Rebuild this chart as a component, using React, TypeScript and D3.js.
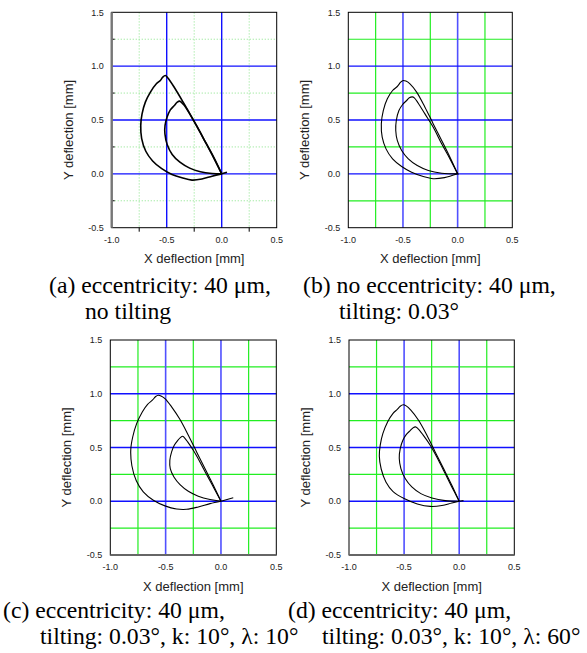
import React from "react";
import * as d3 from "d3";

type P = [number, number];

const X_TICKS = [-1.0, -0.5, 0.0, 0.5];
const Y_TICKS = [-0.5, 0.0, 0.5, 1.0, 1.5];
const MAJOR_X = [-0.5, 0.0];
const MAJOR_Y = [0.0, 0.5, 1.0];
const MINOR_X = [-0.75, -0.25, 0.25];
const MINOR_Y = [-0.25, 0.25, 0.75, 1.25];

const A_OUTER: P[] = [[0,0],[-0.073,0.155],[-0.164,0.325],[-0.255,0.495],[-0.345,0.656],[-0.436,0.811],[-0.491,0.892],[-0.512,0.913],[-0.536,0.898],[-0.558,0.867],[-0.594,0.836],[-0.648,0.759],[-0.694,0.666],[-0.724,0.557],[-0.736,0.45],[-0.728,0.33],[-0.69,0.21],[-0.628,0.12],[-0.545,0.048],[-0.452,-0.006],[-0.361,-0.037],[-0.27,-0.058],[-0.18,-0.048],[-0.088,-0.022],[0,0]];
const A_INNER: P[] = [[0,0],[-0.073,0.149],[-0.148,0.294],[-0.224,0.44],[-0.291,0.557],[-0.345,0.641],[-0.382,0.675],[-0.406,0.663],[-0.43,0.635],[-0.467,0.594],[-0.497,0.526],[-0.515,0.45],[-0.516,0.37],[-0.495,0.27],[-0.45,0.18],[-0.38,0.108],[-0.291,0.053],[-0.194,0.019],[-0.088,0.003],[0,0]];
const A_TAIL: P[] = [[0,0],[0.048,0.015]];

const B_OUTER: P[] = [[0,0],[-0.07,0.155],[-0.146,0.31],[-0.223,0.464],[-0.299,0.619],[-0.375,0.759],[-0.436,0.836],[-0.473,0.861],[-0.497,0.867],[-0.521,0.851],[-0.552,0.811],[-0.595,0.774],[-0.643,0.697],[-0.68,0.588],[-0.698,0.464],[-0.69,0.341],[-0.655,0.232],[-0.595,0.139],[-0.512,0.068],[-0.421,0.015],[-0.314,-0.025],[-0.225,-0.045],[-0.12,-0.035],[0,0]];
const B_INNER: P[] = [[0,0],[-0.07,0.139],[-0.146,0.279],[-0.223,0.433],[-0.299,0.557],[-0.36,0.656],[-0.396,0.706],[-0.415,0.715],[-0.442,0.706],[-0.466,0.681],[-0.503,0.644],[-0.537,0.588],[-0.561,0.495],[-0.566,0.402],[-0.552,0.31],[-0.512,0.217],[-0.451,0.139],[-0.369,0.077],[-0.268,0.031],[-0.146,0.006],[0,0]];
const B_TAIL: P[] = [[0,0],[0.01,-0.004]];

const C_OUTER: P[] = [[0,0],[-0.069,0.149],[-0.145,0.304],[-0.22,0.459],[-0.295,0.614],[-0.37,0.76],[-0.446,0.878],[-0.506,0.955],[-0.542,0.98],[-0.566,0.986],[-0.59,0.974],[-0.62,0.94],[-0.663,0.902],[-0.711,0.831],[-0.762,0.722],[-0.797,0.6],[-0.815,0.48],[-0.805,0.33],[-0.765,0.19],[-0.702,0.087],[-0.611,0.009],[-0.506,-0.043],[-0.401,-0.072],[-0.31,-0.075],[-0.205,-0.053],[-0.099,-0.022],[0,0]];
const C_INNER: P[] = [[0,0],[-0.069,0.133],[-0.13,0.248],[-0.19,0.366],[-0.25,0.474],[-0.301,0.552],[-0.331,0.592],[-0.346,0.605],[-0.367,0.592],[-0.392,0.564],[-0.422,0.521],[-0.446,0.459],[-0.462,0.381],[-0.458,0.304],[-0.425,0.226],[-0.37,0.155],[-0.295,0.093],[-0.205,0.047],[-0.099,0.016],[0,0]];
const C_TAIL: P[] = [[0,0],[0.111,0.032]];

const D_OUTER: P[] = [[0,0],[-0.067,0.149],[-0.142,0.304],[-0.218,0.459],[-0.293,0.614],[-0.369,0.753],[-0.439,0.847],[-0.481,0.887],[-0.508,0.897],[-0.535,0.884],[-0.56,0.856],[-0.602,0.816],[-0.65,0.738],[-0.693,0.629],[-0.717,0.52],[-0.725,0.42],[-0.708,0.3],[-0.665,0.18],[-0.6,0.09],[-0.5,0.025],[-0.38,-0.025],[-0.263,-0.048],[-0.157,-0.04],[-0.067,-0.016],[0,0]];
const D_INNER: P[] = [[0,0],[-0.067,0.133],[-0.127,0.257],[-0.188,0.381],[-0.263,0.521],[-0.33,0.62],[-0.375,0.676],[-0.397,0.692],[-0.42,0.682],[-0.445,0.657],[-0.481,0.62],[-0.511,0.567],[-0.535,0.49],[-0.544,0.4],[-0.529,0.304],[-0.49,0.211],[-0.43,0.133],[-0.348,0.071],[-0.248,0.031],[-0.127,0.006],[0,0]];
const D_TAIL: P[] = [[0,0],[0.039,0.006]];

const CAPTIONS = [
  { l1: "(a) eccentricity: 40 μm,", l2: "no tilting", x1: 49, x2: 85, y1: 293, y2: 319 },
  { l1: "(b) no eccentricity: 40 μm,", l2: "tilting: 0.03°", x1: 303, x2: 339, y1: 293, y2: 319 },
  { l1: "(c) eccentricity: 40 μm,", l2: "tilting: 0.03°, k: 10°, λ: 10°", x1: 3, x2: 40, y1: 618, y2: 644 },
  { l1: "(d) eccentricity: 40 μm,", l2: "tilting: 0.03°, k: 10°, λ: 60°", x1: 288, x2: 322, y1: 618, y2: 644 },
];

interface PanelCfg {
  left: number; right: number; top: number; bottom: number;
  dotted: boolean; grayLeft: boolean; grayBottom: boolean; lw: number;
  curves: P[][];
}

const PANELS: PanelCfg[] = [
  { left: 111.7, right: 276.7, top: 12.3, bottom: 227.7, dotted: true, grayLeft: true, grayBottom: false, lw: 1.6, curves: [A_OUTER, A_INNER, A_TAIL] },
  { left: 348.3, right: 512.3, top: 12.3, bottom: 227.7, dotted: false, grayLeft: false, grayBottom: false, lw: 1.1, curves: [B_OUTER, B_INNER, B_TAIL] },
  { left: 110.3, right: 276.3, top: 340, bottom: 555, dotted: false, grayLeft: false, grayBottom: true, lw: 1.1, curves: [C_OUTER, C_INNER, C_TAIL] },
  { left: 349, right: 514.3, top: 340, bottom: 555, dotted: false, grayLeft: false, grayBottom: true, lw: 1.1, curves: [D_OUTER, D_INNER, D_TAIL] },
];

const SANS = "'Liberation Sans', Arial, Helvetica, sans-serif";
const SERIF = "'Liberation Serif', 'Times New Roman', Times, 'Nimbus Roman', 'Nimbus Roman No9 L', 'DejaVu Serif', 'Noto Serif', FreeSerif, Tinos, 'Noto Serif CJK SC', 'Noto Serif CJK JP', serif";

function Panel({ cfg }: { cfg: PanelCfg }) {
  const x = d3.scaleLinear().domain([-1, 0.5]).range([cfg.left, cfg.right]);
  const y = d3.scaleLinear().domain([-0.5, 1.5]).range([cfg.bottom, cfg.top]);
  const line = d3.line<P>().x(d => x(d[0])).y(d => y(d[1])).curve(d3.curveCatmullRom.alpha(0.5));
  const minorStroke = cfg.dotted ? "#9be89b" : "#22ee22";
  const minorDash = cfg.dotted ? "1.2,1.8" : undefined;
  const minorW = cfg.dotted ? 1 : 1.2;
  const cx = (cfg.left + cfg.right) / 2;
  const cy = (cfg.top + cfg.bottom) / 2 + 10;
  const sans = { fontFamily: SANS };
  return (
    <g>
      {MINOR_X.map(v => (
        <line key={"mx" + v} x1={x(v)} x2={x(v)} y1={cfg.top} y2={cfg.bottom} stroke={minorStroke} strokeWidth={minorW} strokeDasharray={minorDash} />
      ))}
      {MINOR_Y.map(v => (
        <line key={"my" + v} y1={y(v)} y2={y(v)} x1={cfg.left} x2={cfg.right} stroke={minorStroke} strokeWidth={minorW} strokeDasharray={minorDash} />
      ))}
      {MAJOR_X.map(v => (
        <line key={"Mx" + v} x1={x(v)} x2={x(v)} y1={cfg.top} y2={cfg.bottom} stroke={cfg.dotted ? "#1010ff" : "#5050ff"} strokeWidth={cfg.dotted ? 1.4 : 1.6} />
      ))}
      {MAJOR_Y.map(v => (
        <line key={"My" + v} y1={y(v)} y2={y(v)} x1={cfg.left} x2={cfg.right} stroke="#1010ff" strokeWidth={1.3} />
      ))}
      {cfg.dotted && MINOR_Y.map(v => (
        <line key={"tl" + v} x1={cfg.left} x2={cfg.left + 3} y1={y(v)} y2={y(v)} stroke="#000" strokeWidth={1} />
      ))}
      {cfg.dotted && MINOR_X.map(v => (
        <line key={"tb" + v} x1={x(v)} x2={x(v)} y1={cfg.bottom} y2={cfg.bottom + 4} stroke="#000" strokeWidth={1} />
      ))}
      <rect x={cfg.left} y={cfg.top} width={cfg.right - cfg.left} height={cfg.bottom - cfg.top} fill="none" stroke="#000" strokeWidth={1} />
      {cfg.grayLeft && <line x1={cfg.left} x2={cfg.left} y1={cfg.top} y2={cfg.bottom} stroke="#777" strokeWidth={2.4} />}
      {cfg.grayBottom && <line x1={cfg.left} x2={cfg.right} y1={cfg.bottom} y2={cfg.bottom} stroke="#666" strokeWidth={1.8} />}
      {cfg.curves.map((c, i) => (
        <path key={"c" + i} d={line(c) || ""} fill="none" stroke="#000" strokeWidth={cfg.lw} strokeLinejoin="round" />
      ))}
      {X_TICKS.map(v => (
        <text key={"xl" + v} x={x(v)} y={cfg.bottom + 15} textAnchor="middle" style={sans} fontSize={9} fill="#222">{v.toFixed(1)}</text>
      ))}
      {Y_TICKS.map(v => (
        <text key={"yl" + v} x={cfg.left - 8} y={y(v) + 3.2} textAnchor="end" style={sans} fontSize={9} fill="#222">{v.toFixed(1)}</text>
      ))}
      <text x={cx} y={cfg.bottom + 35.5} textAnchor="middle" style={sans} fontSize={13} fill="#222">X deflection [mm]</text>
      <text transform={`translate(${cfg.left - 39},${cy}) rotate(-90)`} textAnchor="middle" style={sans} fontSize={13} fill="#222">Y deflection [mm]</text>
    </g>
  );
}

export default function App() {
  const serif = { fontFamily: SERIF, fontSize: "23.7px" };
  return (
    <svg width={587} height={653} style={{ position: "absolute", left: 0, top: 0, background: "#fff" }}>
      <rect x={0} y={0} width={587} height={653} fill="#fff" />
      {PANELS.map((p, i) => <Panel key={i} cfg={p} />)}
      {CAPTIONS.map((c, i) => (
        <g key={"cap" + i} fill="#000">
          <text x={c.x1} y={c.y1} style={serif}>{c.l1}</text>
          <text x={c.x2} y={c.y2} style={serif}>{c.l2}</text>
        </g>
      ))}
    </svg>
  );
}
